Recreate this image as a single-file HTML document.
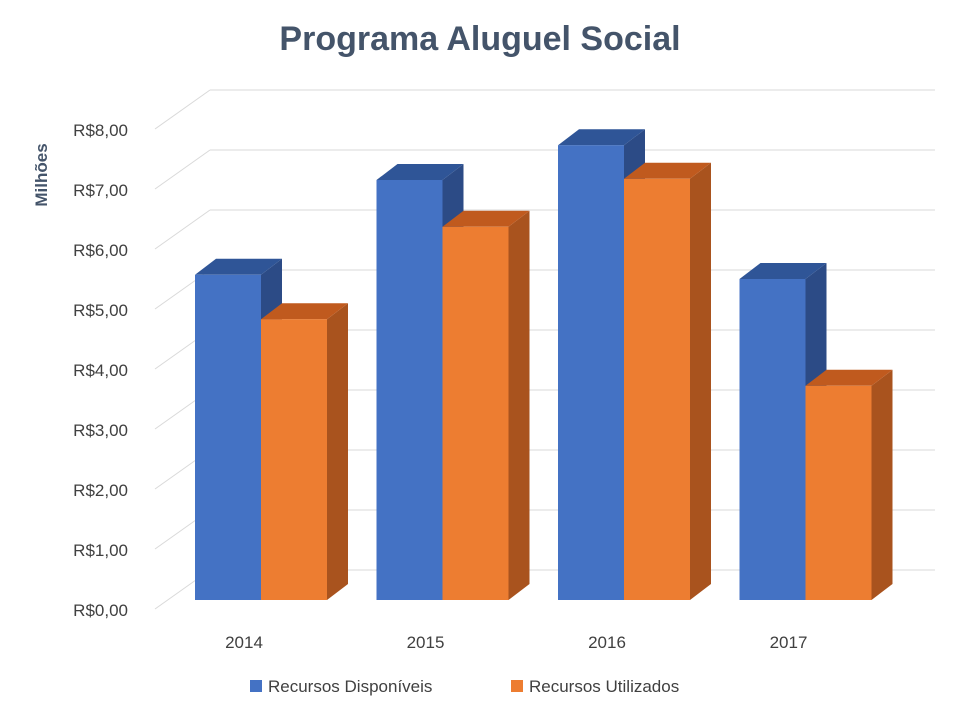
<!DOCTYPE html>
<html><head><meta charset="utf-8"><style>
body{margin:0;background:#fff;font-family:"Liberation Sans",sans-serif}
svg{display:block}
</style></head><body>
<svg id="c" width="960" height="720">
<text x="480" y="50" text-anchor="middle" font-size="34" font-weight="bold" fill="#44546a">Programa Aluguel Social</text>
<text transform="translate(47,175) rotate(-90)" text-anchor="middle" font-size="17" font-weight="bold" fill="#44546a">Milhões</text>
<g id="grid"></g><g id="bars"></g><g id="labels"></g>
<g>
<rect x="250" y="680" width="12" height="12" fill="#4472c4"/>
<text x="268" y="692" font-size="17" fill="#404040">Recursos Disponíveis</text>
<rect x="511" y="680" width="12" height="12" fill="#ed7d31"/>
<text x="529" y="692" font-size="17" fill="#404040">Recursos Utilizados</text>
</g>
</svg>
<script>
const categories=["2014","2015","2016","2017"];
const disponiveis=[5.42,7.0,7.58,5.35];
const utilizados=[4.68,6.22,7.02,3.57];
const ticks=["R$0,00","R$1,00","R$2,00","R$3,00","R$4,00","R$5,00","R$6,00","R$7,00","R$8,00"];
const NS="http://www.w3.org/2000/svg";
function mk(t,a,p){const e=document.createElementNS(NS,t);for(const k in a)e.setAttribute(k,a[k]);p.appendChild(e);return e;}
const U=60, backX0=210, backX1=935, backY0=570, dx=55, dy=-39;
const grid=document.getElementById('grid'),bars=document.getElementById('bars'),labels=document.getElementById('labels');
for(let i=0;i<ticks.length;i++){
  const y=backY0-i*U;
  const l=mk('line',{x1:backX0,y1:y,x2:backX1,y2:y,stroke:'#d9d9d9','stroke-width':1},grid);
  
  
  const d=mk('line',{x1:backX0-dx,y1:y-dy,x2:backX0,y2:y,stroke:'#d9d9d9','stroke-width':1},grid);
  
  
}
ticks.forEach((t,i)=>{
  const e=mk('text',{x:128,y:backY0-dy-i*U+7,'text-anchor':'end','font-size':17,fill:'#404040'},labels);
  e.textContent=t;
  
  
});
const base=600, bw=66, ddx=21, ddy=-16, g0=195, gs=181.5;
function yv(v){return base-v*U;}
function bar(x,v,front,top,side,name){
  const y=yv(v);
  const g=mk('g',{},bars);
  
  
  mk('polygon',{points:`${x+bw},${y} ${x+bw+ddx},${y+ddy} ${x+bw+ddx},${base+ddy} ${x+bw},${base}`,fill:side},g);
  mk('polygon',{points:`${x},${y} ${x+ddx},${y+ddy} ${x+bw+ddx},${y+ddy} ${x+bw},${y}`,fill:top},g);
  mk('rect',{x:x,y:y,width:bw,height:base-y,fill:front},g);
}
categories.forEach((c,i)=>{
  const x=g0+i*gs;
  bar(x,disponiveis[i],'#4472c4','#2f5597','#2c4b86','bar-disponiveis-'+c);
  bar(x+bw,utilizados[i],'#ed7d31','#c05a1e','#a9531e','bar-utilizados-'+c);
  const t=mk('text',{x:x+49,y:648,'text-anchor':'middle','font-size':17,fill:'#404040'},labels);
  t.textContent=c;
  
  
});
</script>
</body></html>
